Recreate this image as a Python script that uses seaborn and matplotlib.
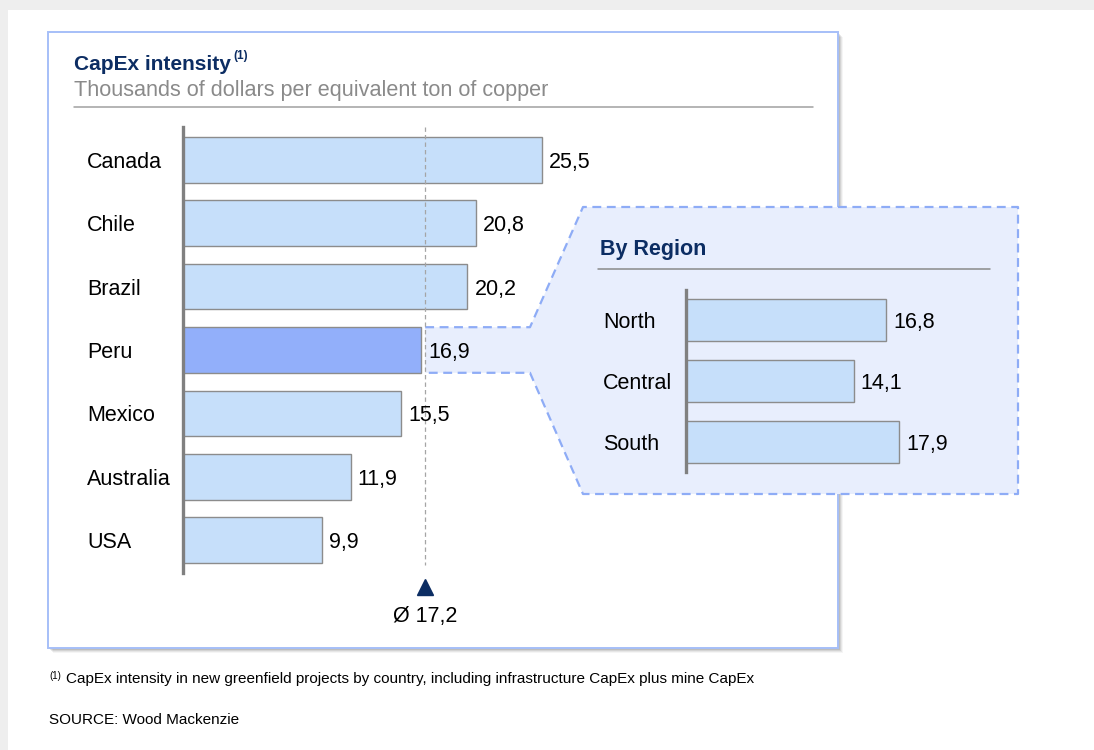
import matplotlib
matplotlib.use("Agg")
import matplotlib.pyplot as plt
import matplotlib.transforms as mtransforms
from matplotlib.patches import Rectangle, Polygon
from matplotlib.lines import Line2D
import pandas as pd
import seaborn as sns

# ---- data -------------------------------------------------------------
countries = ["Canada", "Chile", "Brazil", "Peru", "Mexico", "Australia", "USA"]
capex = [25.5, 20.8, 20.2, 16.9, 15.5, 11.9, 9.9]
average = 17.2
highlight = "Peru"

regions = ["North", "Central", "South"]
region_capex = [16.8, 14.1, 17.9]

title = "CapEx intensity"
subtitle = "Thousands of dollars per equivalent ton of copper"
inset_title = "By Region"
footnote = "CapEx intensity in new greenfield projects by country, including infrastructure CapEx plus mine CapEx"
source = "SOURCE: Wood Mackenzie"

# ---- style ------------------------------------------------------------
NAVY = "#0c2d63"
BAR = "#c6dffa"
BAR_HI = "#92affa"
EDGE = "#8c8c8c"
SPINE = "#808080"
PANEL_EDGE = "#a6bff8"
CALLOUT_FILL = "#e8eefd"
CALLOUT_EDGE = "#8eacf6"
GREY_TXT = "#8a8a8a"
LABEL_SIZE = 15.5

W, H = 1094, 750
sns.set_theme(style="white")
plt.rcParams["font.family"] = ["Liberation Sans", "DejaVu Sans"]

fig = plt.figure(figsize=(W / 100, H / 100), dpi=100)
fig.patch.set_facecolor("white")


def fx(x):
    return x / W


def fy(y):
    return 1 - y / H


def axes_px(left, top, right, bottom):
    return fig.add_axes([fx(left), fy(bottom), (right - left) / W, (bottom - top) / H])


def fmt(v):
    return f"{v:.1f}".replace(".", ",")


# page frame
fig.add_artist(Rectangle((0, fy(10)), 1, 10 / H, transform=fig.transFigure,
                         facecolor="#eeeeee", edgecolor="none", zorder=-10))
fig.add_artist(Rectangle((0, 0), 8 / W, 1, transform=fig.transFigure,
                         facecolor="#eeeeee", edgecolor="none", zorder=-10))

# panel with soft shadow
for k, a in zip(range(5, 0, -1), [0.04, 0.06, 0.08, 0.10, 0.12]):
    fig.add_artist(Rectangle((fx(48 + k), fy(648 + k)), (838 - 48) / W, (648 - 32) / H,
                             transform=fig.transFigure, facecolor="black", alpha=a,
                             edgecolor="none", zorder=-9))
fig.add_artist(Rectangle((fx(48), fy(648)), (838 - 48) / W, (648 - 32) / H,
                         transform=fig.transFigure, facecolor="white",
                         edgecolor=PANEL_EDGE, linewidth=1.4, zorder=-8))

# titles
fig.text(fx(74), fy(62), title, fontsize=15, fontweight="bold", color=NAVY,
         ha="left", va="center_baseline")
fig.text(fx(233), fy(55), "(1)", fontsize=8.5, fontweight="bold", color=NAVY,
         ha="left", va="center_baseline")
fig.text(fx(74), fy(88), subtitle, fontsize=15.6, color=GREY_TXT, ha="left",
         va="center_baseline")
fig.add_artist(Line2D([fx(74), fx(813)], [fy(107), fy(107)], transform=fig.transFigure,
                      color="#a0a0a0", linewidth=1.1))

# ---- main bar chart ---------------------------------------------------
df = pd.DataFrame({"country": countries, "capex": capex})
palette = {c: (BAR_HI if c == highlight else BAR) for c in countries}

ax = axes_px(183, 127, 583, 573)
sns.barplot(data=df, x="capex", y="country", hue="country", palette=palette,
            legend=False, width=0.72, edgecolor=EDGE, linewidth=1.0,
            saturation=1, orient="h", ax=ax)
ax.set_xlim(0, 400 / 14.08)
ax.set_ylim(6.52, -0.52)
ax.patch.set_visible(False)
ax.set_xlabel("")
ax.set_ylabel("")
ax.set_xticks([])
ax.set_yticks([])
for s in ["top", "right", "bottom"]:
    ax.spines[s].set_visible(False)
ax.spines["left"].set_color(SPINE)
ax.spines["left"].set_linewidth(2.4)
ax.spines["left"].set_zorder(5)

lab_tr = mtransforms.blended_transform_factory(fig.transFigure, ax.transData)
for i, (c, v) in enumerate(zip(countries, capex)):
    ax.text(fx(87), i, c, transform=lab_tr, fontsize=LABEL_SIZE, color="black",
            ha="left", va="center_baseline")
    ax.annotate(fmt(v), xy=(v, i), xytext=(7, 0), textcoords="offset pixels",
                fontsize=LABEL_SIZE, color="black", ha="left", va="center_baseline",
                zorder=6)

# average marker
ax.vlines(average, -0.52, 6.39, colors="#a5a5a5", linestyles=(0, (3.5, 2.5)),
          linewidth=0.9, zorder=1)
ax.plot([average], [6.74], marker="^", markersize=12, color=NAVY,
        clip_on=False, linestyle="none")
ax.text(average, 7.17, "Ø " + fmt(average), fontsize=LABEL_SIZE, color="black",
        ha="center", va="center_baseline", clip_on=False)

# ---- callout linking the highlighted bar to the regional breakdown ----
hi_idx = countries.index(highlight)
half = 0.72 / 2
xa, y_top = ax.transData.transform((average, hi_idx - half))
_, y_bot = ax.transData.transform((average, hi_idx + half))
y_top_img, y_bot_img = H - y_top, H - y_bot
pts_img = [(xa, y_top_img), (530, y_top_img), (583, 207), (1018, 207),
           (1018, 494), (583, 494), (530, y_bot_img), (xa, y_bot_img)]
pts_fig = [(fx(x), fy(y)) for x, y in pts_img]
fig.add_artist(Polygon(pts_fig, closed=True, transform=fig.transFigure,
                       facecolor=CALLOUT_FILL, edgecolor="none", zorder=-7))
fig.add_artist(Line2D([p[0] for p in pts_fig], [p[1] for p in pts_fig],
                      transform=fig.transFigure, color=CALLOUT_EDGE,
                      linewidth=1.6, linestyle=(0, (4, 2.5)), zorder=-6))

fig.text(fx(600), fy(247), inset_title, fontsize=15.5, fontweight="bold",
         color=NAVY, ha="left", va="center_baseline")
fig.add_artist(Line2D([fx(598), fx(990)], [fy(269), fy(269)], transform=fig.transFigure,
                      color="#8a8a8a", linewidth=1.1))

# ---- regional bar chart -----------------------------------------------
rdf = pd.DataFrame({"region": regions, "capex": region_capex})
ax2 = axes_px(686, 290, 986, 472)
sns.barplot(data=rdf, x="capex", y="region", color=BAR, saturation=1,
            width=0.70, edgecolor=EDGE, linewidth=1.0, orient="h", ax=ax2)
ax2.set_xlim(0, 300 / 11.9)
ax2.set_ylim(2.49, -0.49)
ax2.patch.set_visible(False)
ax2.set_xlabel("")
ax2.set_ylabel("")
ax2.set_xticks([])
ax2.set_yticks([])
for s in ["top", "right", "bottom"]:
    ax2.spines[s].set_visible(False)
ax2.spines["left"].set_color(SPINE)
ax2.spines["left"].set_linewidth(2.4)
ax2.spines["left"].set_zorder(5)

lab_tr2 = mtransforms.blended_transform_factory(fig.transFigure, ax2.transData)
for i, (r, v) in enumerate(zip(regions, region_capex)):
    ax2.text(fx(603), i, r, transform=lab_tr2, fontsize=LABEL_SIZE, color="black",
             ha="left", va="center_baseline")
    ax2.annotate(fmt(v), xy=(v, i), xytext=(7, 0), textcoords="offset pixels",
                 fontsize=LABEL_SIZE, color="black", ha="left", va="center_baseline")

# ---- footnotes --------------------------------------------------------
fig.text(fx(49), fy(675), "(1)", fontsize=7, color="black", ha="left",
         va="center_baseline")
fig.text(fx(66), fy(678), footnote, fontsize=11, color="black", ha="left",
         va="center_baseline")
fig.text(fx(49), fy(719), source, fontsize=11, color="black", ha="left",
         va="center_baseline")

fig.savefig("out.png", dpi=100)
